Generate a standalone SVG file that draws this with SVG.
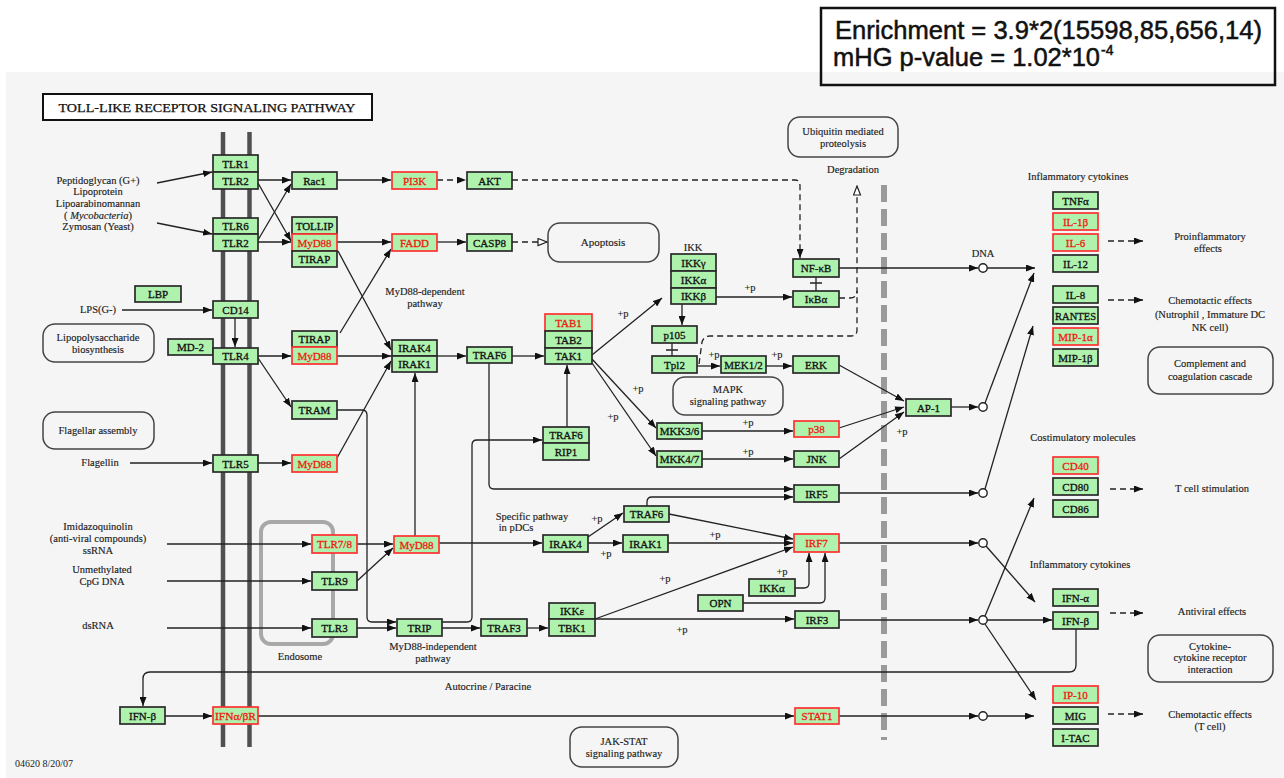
<svg xmlns="http://www.w3.org/2000/svg" width="1284" height="778" viewBox="0 0 1284 778">
<style>
.n{fill:#aef2ae;stroke:#2a2a2a;stroke-width:1.7}
.r{stroke:#ff3030}
.t{font-family:"Liberation Serif",serif;font-size:11px;text-anchor:middle;fill:#111;stroke:#111;stroke-width:0.3}
.tr{fill:#f01a10;stroke:#f01a10}
.l{font-family:"Liberation Serif",serif;font-size:10.5px;text-anchor:middle;fill:#222;stroke:#222;stroke-width:0.15}
.ls{font-family:"Liberation Serif",serif;font-size:10px;fill:#222}
.e{fill:none;stroke:#222;stroke-width:1.3;marker-end:url(#a)}
.en{fill:none;stroke:#222;stroke-width:1.3}
.d{fill:none;stroke:#222;stroke-width:1.3;stroke-dasharray:6,4;marker-end:url(#a)}
.dn{fill:none;stroke:#222;stroke-width:1.3;stroke-dasharray:6,4}
.do{fill:none;stroke:#222;stroke-width:1.3;stroke-dasharray:6,4;marker-end:url(#o)}
.bx{fill:none;stroke:#444;stroke-width:1.5}
.c{fill:#fff;stroke:#222;stroke-width:1.4}
.en2{font-family:"Liberation Sans",Arial,sans-serif;font-size:25px;fill:#111;stroke:#111;stroke-width:0.5}
</style>
<defs>
<marker id="a" markerUnits="userSpaceOnUse" markerWidth="9" markerHeight="7" refX="9" refY="3.5" orient="auto"><path d="M0,0 L9,3.5 L0,7 z" fill="#111"/></marker>
<marker id="o" markerUnits="userSpaceOnUse" markerWidth="11" markerHeight="9" refX="10" refY="4.5" orient="auto"><path d="M1,1 L10,4.5 L1,8 z" fill="#fff" stroke="#222" stroke-width="1.2"/></marker>
</defs>
<rect x="0" y="0" width="1284" height="778" fill="#ffffff"/>
<rect x="6" y="72" width="1278" height="706" fill="#f5f5f5"/>
<g id="enrichment">
<rect x="821" y="8" width="454" height="77" fill="none" stroke="#111" stroke-width="2.5"/>
<text class="en2" x="835" y="39" textLength="427" lengthAdjust="spacingAndGlyphs">Enrichment = 3.9*2(15598,85,656,14)</text>
<text class="en2" x="833" y="66" textLength="267" lengthAdjust="spacingAndGlyphs">mHG p-value = 1.02*10</text>
<text class="en2" x="1101" y="55" style="font-size:14px">-4</text>
</g>
<g id="title">
<rect x="43" y="94" width="329" height="26" fill="#fff" stroke="#111" stroke-width="2"/>
<text x="207" y="112" style="font-family:'Liberation Serif',serif;font-size:12px;text-anchor:middle;fill:#111;stroke:#111;stroke-width:0.25" textLength="297" lengthAdjust="spacingAndGlyphs">TOLL-LIKE RECEPTOR SIGNALING PATHWAY</text>
</g>
<g id="membrane">
<line x1="223" y1="132" x2="223" y2="747" stroke="#505050" stroke-width="4.5"/>
<line x1="249.5" y1="132" x2="249.5" y2="747" stroke="#505050" stroke-width="4.5"/>
<line x1="884" y1="185" x2="884" y2="740" stroke="#9a9a9a" stroke-width="6" stroke-dasharray="17,7"/>
<rect x="261" y="522" width="72" height="122" rx="10" fill="none" stroke="#a8a8a8" stroke-width="4"/>
</g>
<g id="maps">
<rect class="bx" x="43" y="324" width="111" height="38" rx="12"/>
<text class="l" x="98" y="341">Lipopolysaccharide</text><text class="l" x="98" y="353">biosynthesis</text>
<rect class="bx" x="43" y="412" width="111" height="37" rx="12"/>
<text class="l" x="98" y="434">Flagellar assembly</text>
<rect class="bx" x="548" y="223" width="111" height="39" rx="12"/>
<text class="l" x="603" y="246" style="font-size:11px">Apoptosis</text>
<rect class="bx" x="788" y="117" width="110" height="40" rx="12"/>
<text class="l" x="843" y="135">Ubiquitin mediated</text><text class="l" x="843" y="147">proteolysis</text>
<rect class="bx" x="673" y="377" width="110" height="38" rx="12"/>
<text class="l" x="728" y="393">MAPK</text><text class="l" x="728" y="405">signaling pathway</text>
<rect class="bx" x="570" y="727" width="108" height="40" rx="12"/>
<text class="l" x="624" y="745">JAK-STAT</text><text class="l" x="624" y="757">signaling pathway</text>
<rect class="bx" x="1148" y="347" width="125" height="47" rx="12"/>
<text class="l" x="1210" y="367">Complement and</text><text class="l" x="1210" y="380">coagulation cascade</text>
<rect class="bx" x="1148" y="635" width="125" height="47" rx="12"/>
<text class="l" x="1210" y="650">Cytokine-</text><text class="l" x="1210" y="661">cytokine receptor</text><text class="l" x="1210" y="673">interaction</text>
</g>
<g id="labels">
<text class="l" x="98" y="184">Peptidoglycan (G+)</text>
<text class="l" x="98" y="195">Lipoprotein</text>
<text class="l" x="98" y="207">Lipoarabinomannan</text>
<text class="l" x="98" y="219">( <tspan font-style="italic">Mycobacteria</tspan>)</text>
<text class="l" x="98" y="230">Zymosan (Yeast)</text>
<text class="l" x="98" y="313">LPS(G-)</text>
<text class="l" x="100" y="466">Flagellin</text>
<text class="l" x="425" y="295">MyD88-dependent</text><text class="l" x="425" y="307">pathway</text>
<text class="l" x="693" y="251">IKK</text>
<text class="l" x="853" y="173">Degradation</text>
<text class="l" x="983" y="257">DNA</text>
<text class="l" x="532" y="520">Specific pathway</text><text class="l" x="516" y="531">in pDCs</text>
<text class="l" x="98" y="530">Imidazoquinolin</text>
<text class="l" x="98" y="542">(anti-viral compounds)</text>
<text class="l" x="98" y="554">ssRNA</text>
<text class="l" x="102" y="573">Unmethylated</text>
<text class="l" x="102" y="585">CpG DNA</text>
<text class="l" x="98" y="629">dsRNA</text>
<text class="l" x="300" y="660">Endosome</text>
<text class="l" x="433" y="650">MyD88-independent</text><text class="l" x="433" y="662">pathway</text>
<text class="l" x="488" y="690">Autocrine / Paracine</text>
<text class="ls" x="15" y="767">04620  8/20/07</text>
<text class="l" x="1078" y="180">Inflammatory cytokines</text>
<text class="l" x="1210" y="240">Proinflammatory</text><text class="l" x="1208" y="252">effects</text>
<text class="l" x="1210" y="304">Chemotactic effects</text>
<text class="l" x="1210" y="318">(Nutrophil , Immature DC</text>
<text class="l" x="1210" y="331">NK cell)</text>
<text class="l" x="1083" y="441">Costimulatory molecules</text>
<text class="l" x="1212" y="492">T cell stimulation</text>
<text class="l" x="1080" y="568">Inflammatory cytokines</text>
<text class="l" x="1212" y="615">Antiviral effects</text>
<text class="l" x="1210" y="718">Chemotactic effects</text><text class="l" x="1210" y="730">(T cell)</text>
<text class="l" x="750" y="291">+p</text>
<text class="l" x="623" y="317">+p</text>
<text class="l" x="714" y="358">+p</text>
<text class="l" x="777" y="358">+p</text>
<text class="l" x="638" y="392">+p</text>
<text class="l" x="613" y="420">+p</text>
<text class="l" x="748" y="426">+p</text>
<text class="l" x="748" y="455">+p</text>
<text class="l" x="902" y="435">+p</text>
<text class="l" x="597" y="522">+p</text>
<text class="l" x="606" y="557">+p</text>
<text class="l" x="715" y="538">+p</text>
<text class="l" x="665" y="582">+p</text>
<text class="l" x="782" y="575">+p</text>
<text class="l" x="682" y="633">+p</text>
</g>
<g id="connectors">
<path class="e" d="M157,183 L212,172"/>
<path class="e" d="M157,223 L212,234"/>
<path class="e" d="M258,180 L291,180"/>
<path class="e" d="M258,183 L291,241"/>
<path class="e" d="M258,240 L291,184"/>
<path class="e" d="M258,242 L291,242"/>
<path class="e" d="M337,180 L391,180"/>
<path class="d" d="M437,180 L466,180"/>
<path class="d" d="M512,180 L795,180 Q800,180 800,186 L800,258"/>
<path class="e" d="M337,242 L391,242"/>
<path class="e" d="M437,242 L466,242"/>
<path class="do" d="M512,242 L547,242"/>
<path class="e" d="M122,310 L212,310"/>
<path class="e" d="M235,318 L235,347"/>
<path class="e" d="M258,356 L291,356"/>
<path class="e" d="M258,358 L291,407"/>
<path class="e" d="M337,356 L391,356"/>
<path class="e" d="M338,251 L391,350"/>
<path class="e" d="M340,333 L391,249"/>
<path class="e" d="M337,458 L391,361"/>
<path class="e" d="M337,410 L362,410 Q367,410 367,415 L367,617 Q367,622 372,622 L396,622"/>
<path class="e" d="M130,463 L212,463"/>
<path class="e" d="M258,463 L291,463"/>
<path class="e" d="M437,356 L466,356"/>
<path class="e" d="M512,356 L544,356"/>
<path class="e" d="M592,355 L662,298"/>
<path class="e" d="M592,359 L656,428"/>
<path class="e" d="M592,363 L656,456"/>
<path class="e" d="M567,427 L567,365"/>
<path class="e" d="M442,622 L467,622 Q472,622 472,617 L472,445 Q472,440 477,440 L542,440"/>
<path class="e" d="M489,363 L489,484 Q489,489 494,489 L793,489"/>
<path class="e" d="M716,297 L792,297"/>
<path class="e" d="M682,304 L682,325"/>
<path class="en" d="M816,277 L816,291 M810,283 L822,283"/>
<path class="en" d="M672,343 L672,356 M666,350 L678,350"/>
<path class="e" d="M697,366 L720,366"/>
<path class="e" d="M766,366 L792,366"/>
<path class="do" d="M699,364 L702,342 Q704,336 710,336 L851,336 Q857,336 857,330 L857,186"/>
<path class="dn" d="M839,298 L850,298 Q857,298 857,291"/>
<path class="e" d="M702,431 L793,431"/>
<path class="e" d="M702,459 L793,459"/>
<path class="e" d="M839,365 L904,401"/>
<path class="e" d="M839,428 L904,407"/>
<path class="e" d="M839,459 L904,412"/>
<path class="e" d="M839,268 L978,268"/>
<path class="e" d="M987,268 L1035,268"/>
<path class="e" d="M951,407 L978,407"/>
<path class="e" d="M985,403 L1034,273"/>
<path class="e" d="M839,493 L978,493"/>
<path class="e" d="M985,489 L1033,326"/>
<path class="e" d="M647,506 L647,502 Q647,497 652,497 L793,497"/>
<path class="e" d="M669,514 L793,539"/>
<path class="e" d="M439,543 L542,543"/>
<path class="e" d="M588,537 L623,513"/>
<path class="e" d="M588,543 L622,543"/>
<path class="e" d="M668,543 L793,543"/>
<path class="e" d="M595,619 L793,547"/>
<path class="e" d="M595,619 L794,619"/>
<path class="e" d="M795,588 L804,588 Q809,588 809,583 L809,553"/>
<path class="e" d="M743,603 L820,603 Q825,603 825,598 L825,553"/>
<path class="e" d="M839,543 L978,543"/>
<path class="e" d="M986,546 L1035,602"/>
<path class="e" d="M839,620 L978,620"/>
<path class="e" d="M987,620 L1052,620"/>
<path class="e" d="M985,616 L1034,498"/>
<path class="e" d="M985,624 L1036,700"/>
<path class="e" d="M442,628 L480,628"/>
<path class="e" d="M527,628 L548,628"/>
<path class="e" d="M357,628 L396,628"/>
<path class="e" d="M357,544 L393,544"/>
<path class="e" d="M357,581 L393,548"/>
<path class="e" d="M415,536 L415,373"/>
<path class="e" d="M167,544 L311,544"/>
<path class="e" d="M167,581 L311,581"/>
<path class="e" d="M167,628 L311,628"/>
<path class="e" d="M1076,629 L1076,665 Q1076,672 1069,672 L150,672 Q143,672 143,679 L143,706"/>
<path class="e" d="M165,716 L212,716"/>
<path class="e" d="M258,716 L794,716"/>
<path class="e" d="M839,716 L978,716"/>
<path class="e" d="M987,716 L1034,716"/>
<path class="d" d="M1108,241 L1143,241"/>
<path class="d" d="M1108,300 L1143,300"/>
<path class="d" d="M1110,489 L1143,489"/>
<path class="d" d="M1110,613 L1143,613"/>
<path class="d" d="M1108,714 L1143,714"/>
<circle class="c" cx="983" cy="268" r="4.2"/>
<circle class="c" cx="983" cy="407" r="4.2"/>
<circle class="c" cx="983" cy="493" r="4.2"/>
<circle class="c" cx="983" cy="543" r="4.2"/>
<circle class="c" cx="983" cy="620" r="4.2"/>
<circle class="c" cx="983" cy="716" r="4.2"/>
</g>
<g id="tlr1"><rect class="n" x="213" y="155" width="45" height="17"/><text class="t" x="235.5" y="167.5">TLR1</text></g>
<g id="tlr2a"><rect class="n" x="213" y="172" width="45" height="17"/><text class="t" x="235.5" y="184.5">TLR2</text></g>
<g id="tlr6"><rect class="n" x="213" y="218" width="45" height="16"/><text class="t" x="235.5" y="230">TLR6</text></g>
<g id="tlr2b"><rect class="n" x="213" y="234" width="45" height="17"/><text class="t" x="235.5" y="246.5">TLR2</text></g>
<g id="rac1"><rect class="n" x="292" y="172" width="45" height="17"/><text class="t" x="314.5" y="184.5">Rac1</text></g>
<g id="pi3k"><rect class="n r" x="392" y="172" width="45" height="17"/><text class="t tr" x="414.5" y="184.5">PI3K</text></g>
<g id="akt"><rect class="n" x="467" y="172" width="45" height="17"/><text class="t" x="489.5" y="184.5">AKT</text></g>
<g id="tollip"><rect class="n" x="292" y="217" width="45" height="17"/><text class="t" x="314.5" y="229.5">TOLLIP</text></g>
<g id="myd88a"><rect class="n r" x="292" y="234" width="45" height="17"/><text class="t tr" x="314.5" y="246.5">MyD88</text></g>
<g id="tirapa"><rect class="n" x="292" y="251" width="45" height="16"/><text class="t" x="314.5" y="263">TIRAP</text></g>
<g id="fadd"><rect class="n r" x="392" y="234" width="45" height="17"/><text class="t tr" x="414.5" y="246.5">FADD</text></g>
<g id="casp8"><rect class="n" x="467" y="234" width="45" height="17"/><text class="t" x="489.5" y="246.5">CASP8</text></g>
<g id="lbp"><rect class="n" x="135" y="286" width="46" height="16"/><text class="t" x="158" y="298">LBP</text></g>
<g id="cd14"><rect class="n" x="213" y="301" width="45" height="17"/><text class="t" x="235.5" y="313.5">CD14</text></g>
<g id="md2"><rect class="n" x="168" y="339" width="45" height="16"/><text class="t" x="190.5" y="351">MD-2</text></g>
<g id="tlr4"><rect class="n" x="213" y="348" width="45" height="16"/><text class="t" x="235.5" y="360">TLR4</text></g>
<g id="tirapb"><rect class="n" x="292" y="331" width="45" height="16"/><text class="t" x="314.5" y="343">TIRAP</text></g>
<g id="myd88b"><rect class="n r" x="292" y="347" width="45" height="17"/><text class="t tr" x="314.5" y="359.5">MyD88</text></g>
<g id="tram"><rect class="n" x="292" y="401" width="45" height="18"/><text class="t" x="314.5" y="414">TRAM</text></g>
<g id="tlr5"><rect class="n" x="213" y="455" width="45" height="17"/><text class="t" x="235.5" y="467.5">TLR5</text></g>
<g id="myd88c"><rect class="n r" x="292" y="455" width="45" height="17"/><text class="t tr" x="314.5" y="467.5">MyD88</text></g>
<g id="irak4a"><rect class="n" x="392" y="340" width="45" height="16"/><text class="t" x="414.5" y="352">IRAK4</text></g>
<g id="irak1a"><rect class="n" x="392" y="356" width="45" height="16"/><text class="t" x="414.5" y="368">IRAK1</text></g>
<g id="traf6a"><rect class="n" x="467" y="347" width="45" height="16"/><text class="t" x="489.5" y="359">TRAF6</text></g>
<g id="tab1"><rect class="n r" x="545" y="314" width="47" height="17"/><text class="t tr" x="568.5" y="326.5">TAB1</text></g>
<g id="tab2"><rect class="n" x="545" y="331" width="47" height="17"/><text class="t" x="568.5" y="343.5">TAB2</text></g>
<g id="tak1"><rect class="n" x="545" y="348" width="47" height="16"/><text class="t" x="568.5" y="360">TAK1</text></g>
<g id="traf6b"><rect class="n" x="543" y="427" width="46" height="16"/><text class="t" x="566" y="439">TRAF6</text></g>
<g id="rip1"><rect class="n" x="543" y="443" width="46" height="17"/><text class="t" x="566" y="455.5">RIP1</text></g>
<g id="ikkg"><rect class="n" x="671" y="254" width="45" height="17"/><text class="t" x="693.5" y="266.5">IKKγ</text></g>
<g id="ikka"><rect class="n" x="671" y="271" width="45" height="17"/><text class="t" x="693.5" y="283.5">IKKα</text></g>
<g id="ikkb"><rect class="n" x="671" y="288" width="45" height="16"/><text class="t" x="693.5" y="300">IKKβ</text></g>
<g id="nfkb"><rect class="n" x="793" y="259" width="46" height="18"/><text class="t" x="816" y="272">NF-κB</text></g>
<g id="ikba"><rect class="n" x="793" y="291" width="46" height="16"/><text class="t" x="816" y="303">IκBα</text></g>
<g id="p105"><rect class="n" x="652" y="326" width="45" height="17"/><text class="t" x="674.5" y="338.5">p105</text></g>
<g id="tpl2"><rect class="n" x="652" y="356" width="45" height="17"/><text class="t" x="674.5" y="368.5">Tpl2</text></g>
<g id="mek12"><rect class="n" x="721" y="356" width="45" height="17"/><text class="t" x="743.5" y="368.5">MEK1/2</text></g>
<g id="erk"><rect class="n" x="793" y="356" width="46" height="17"/><text class="t" x="816" y="368.5">ERK</text></g>
<g id="mkk36"><rect class="n" x="657" y="423" width="45" height="16"/><text class="t" x="679.5" y="435">MKK3/6</text></g>
<g id="mkk47"><rect class="n" x="657" y="451" width="45" height="16"/><text class="t" x="679.5" y="463">MKK4/7</text></g>
<g id="p38"><rect class="n r" x="794" y="421" width="45" height="16"/><text class="t tr" x="816.5" y="433">p38</text></g>
<g id="jnk"><rect class="n" x="794" y="451" width="45" height="16"/><text class="t" x="816.5" y="463">JNK</text></g>
<g id="irf5"><rect class="n" x="794" y="485" width="45" height="17"/><text class="t" x="816.5" y="497.5">IRF5</text></g>
<g id="ap1"><rect class="n" x="906" y="399" width="45" height="17"/><text class="t" x="928.5" y="411.5">AP-1</text></g>
<g id="traf6c"><rect class="n" x="624" y="506" width="45" height="16"/><text class="t" x="646.5" y="518">TRAF6</text></g>
<g id="irak4b"><rect class="n" x="543" y="535" width="45" height="17"/><text class="t" x="565.5" y="547.5">IRAK4</text></g>
<g id="irak1b"><rect class="n" x="623" y="535" width="45" height="17"/><text class="t" x="645.5" y="547.5">IRAK1</text></g>
<g id="irf7"><rect class="n r" x="794" y="534" width="45" height="18"/><text class="t tr" x="816.5" y="547">IRF7</text></g>
<g id="ikkab"><rect class="n" x="749" y="579" width="46" height="17"/><text class="t" x="772" y="591.5">IKKα</text></g>
<g id="opn"><rect class="n" x="698" y="595" width="45" height="16"/><text class="t" x="720.5" y="607">OPN</text></g>
<g id="ikke"><rect class="n" x="549" y="603" width="46" height="16"/><text class="t" x="572" y="615">IKKε</text></g>
<g id="tbk1"><rect class="n" x="549" y="619" width="46" height="17"/><text class="t" x="572" y="631.5">TBK1</text></g>
<g id="irf3"><rect class="n" x="795" y="611" width="44" height="17"/><text class="t" x="817" y="623.5">IRF3</text></g>
<g id="tlr78"><rect class="n r" x="312" y="535" width="45" height="18"/><text class="t tr" x="334.5" y="548">TLR7/8</text></g>
<g id="tlr9"><rect class="n" x="312" y="572" width="45" height="18"/><text class="t" x="334.5" y="585">TLR9</text></g>
<g id="tlr3"><rect class="n" x="312" y="619" width="45" height="18"/><text class="t" x="334.5" y="632">TLR3</text></g>
<g id="myd88d"><rect class="n r" x="394" y="536" width="45" height="17"/><text class="t tr" x="416.5" y="548.5">MyD88</text></g>
<g id="trip"><rect class="n" x="397" y="619" width="45" height="17"/><text class="t" x="419.5" y="631.5">TRIP</text></g>
<g id="traf3"><rect class="n" x="481" y="619" width="46" height="17"/><text class="t" x="504" y="631.5">TRAF3</text></g>
<g id="ifnb_a"><rect class="n" x="120" y="707" width="45" height="17"/><text class="t" x="142.5" y="719.5">IFN-β</text></g>
<g id="ifnabr"><rect class="n r" x="213" y="707" width="45" height="17"/><text class="t tr" x="235.5" y="719.5" textLength="41" lengthAdjust="spacingAndGlyphs">IFNα/βR</text></g>
<g id="stat1"><rect class="n r" x="795" y="708" width="44" height="16"/><text class="t tr" x="817" y="720">STAT1</text></g>
<g id="tnfa"><rect class="n" x="1053" y="192" width="45" height="17"/><text class="t" x="1075.5" y="204.5">TNFα</text></g>
<g id="il1b"><rect class="n r" x="1053" y="213" width="45" height="17"/><text class="t tr" x="1075.5" y="225.5">IL-1β</text></g>
<g id="il6"><rect class="n r" x="1053" y="234" width="45" height="17"/><text class="t tr" x="1075.5" y="246.5">IL-6</text></g>
<g id="il12"><rect class="n" x="1053" y="255" width="45" height="17"/><text class="t" x="1075.5" y="267.5">IL-12</text></g>
<g id="il8"><rect class="n" x="1053" y="286" width="45" height="17"/><text class="t" x="1075.5" y="298.5">IL-8</text></g>
<g id="rantes"><rect class="n" x="1053" y="307" width="45" height="17"/><text class="t" x="1075.5" y="319.5" textLength="41" lengthAdjust="spacingAndGlyphs">RANTES</text></g>
<g id="mip1a"><rect class="n r" x="1053" y="328" width="45" height="17"/><text class="t tr" x="1075.5" y="340.5">MIP-1α</text></g>
<g id="mip1b"><rect class="n" x="1053" y="349" width="45" height="17"/><text class="t" x="1075.5" y="361.5">MIP-1β</text></g>
<g id="cd40"><rect class="n r" x="1053" y="457" width="45" height="17"/><text class="t tr" x="1075.5" y="469.5">CD40</text></g>
<g id="cd80"><rect class="n" x="1053" y="478" width="45" height="17"/><text class="t" x="1075.5" y="490.5">CD80</text></g>
<g id="cd86"><rect class="n" x="1053" y="500" width="45" height="17"/><text class="t" x="1075.5" y="512.5">CD86</text></g>
<g id="ifna"><rect class="n" x="1053" y="589" width="45" height="17"/><text class="t" x="1075.5" y="601.5">IFN-α</text></g>
<g id="ifnb"><rect class="n" x="1053" y="612" width="45" height="17"/><text class="t" x="1075.5" y="624.5">IFN-β</text></g>
<g id="ip10"><rect class="n r" x="1053" y="686" width="45" height="17"/><text class="t tr" x="1075.5" y="698.5">IP-10</text></g>
<g id="mig"><rect class="n" x="1053" y="707" width="45" height="17"/><text class="t" x="1075.5" y="719.5">MIG</text></g>
<g id="itac"><rect class="n" x="1053" y="729" width="45" height="17"/><text class="t" x="1075.5" y="741.5">I-TAC</text></g>
</svg>
